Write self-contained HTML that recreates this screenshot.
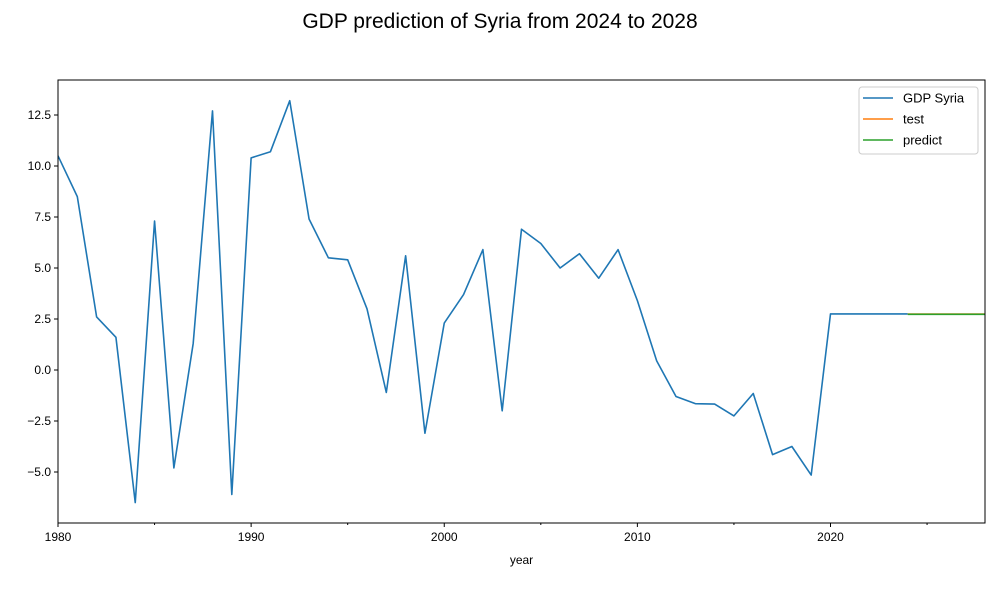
<!DOCTYPE html>
<html><head><meta charset="utf-8"><style>
body{margin:0;background:#fff;font-family:"Liberation Sans","DejaVu Sans",sans-serif;}
</style></head><body>
<svg id="c" width="1000" height="600" xmlns="http://www.w3.org/2000/svg"></svg>
<script>
const years=[1980,1981,1982,1983,1984,1985,1986,1987,1988,1989,1990,1991,1992,1993,1994,1995,1996,1997,1998,1999,2000,2001,2002,2003,2004,2005,2006,2007,2008,2009,2010,2011,2012,2013,2014,2015,2016,2017,2018,2019,2020,2021,2022,2023,2024];
const gdp=[10.5,8.5,2.6,1.6,-6.5,7.3,-4.8,1.3,12.7,-6.1,10.4,10.7,13.2,7.4,5.5,5.4,3.0,-1.1,5.6,-3.1,2.3,3.7,5.9,-2.0,6.9,6.2,5.0,5.7,4.5,5.9,3.4,0.45,-1.3,-1.65,-1.67,-2.25,-1.15,-4.15,-3.75,-5.15,2.75,2.75,2.75,2.75,2.75];
const testYears=[2024,2025,2026,2027,2028];
const testVals=[2.74,2.74,2.74,2.74,2.74];
const predYears=[2024,2025,2026,2027,2028];
const predVals=[2.73,2.73,2.73,2.73,2.73];
const xTicks=[1980,1990,2000,2010,2020];
const xMinor=[1985,1995,2005,2015,2025];
const yTicks=[-5,-2.5,0,2.5,5,7.5,10,12.5];
const yLabels=["−5.0","−2.5","0.0","2.5","5.0","7.5","10.0","12.5"];

const L=58,R=985,T=80,B=523;
const x=v=>L+(v-1980)*(R-L)/48;
const y=v=>370-v*20.4;
const svg=document.getElementById('c');
const NS='http://www.w3.org/2000/svg';
function mk(tag,attrs,parent){const e=document.createElementNS(NS,tag);for(const k in attrs)e.setAttribute(k,attrs[k]);(parent||svg).appendChild(e);return e;}

const title=mk('text',{x:500,y:28,'text-anchor':'middle','font-size':21,fill:'#000'});
title.textContent='GDP prediction of Syria from 2024 to 2028';



const clip=mk('clipPath',{id:'cp'});mk('rect',{x:L,y:T,width:R-L,height:B-T},clip);

function line(xs,vs,color,name){
  const d=xs.map((v,i)=>(i?'L':'M')+x(v).toFixed(2)+','+y(vs[i]).toFixed(2)).join('');
  const p=mk('path',{d:d,fill:'none',stroke:color,'stroke-width':1.6,'clip-path':'url(#cp)','stroke-linejoin':'round'});
  
  
}
line(years,gdp,'#1f77b4','gdp-syria-line');
line(testYears,testVals,'#ff7f0e','test-line');
line(predYears,predVals,'#2ca02c','predict-line');

const frame=mk('rect',{x:L,y:T,width:R-L,height:B-T,fill:'none',stroke:'#000','stroke-width':1});



xTicks.forEach(v=>{
  mk('line',{x1:x(v),x2:x(v),y1:B,y2:B+4,stroke:'#000'});
  const t=mk('text',{x:x(v),y:B+18,'text-anchor':'middle','font-size':12});
  t.textContent=v;
  
  
});
xMinor.forEach(v=>mk('line',{x1:x(v),x2:x(v),y1:B,y2:B+2,stroke:'#000'}));
yTicks.forEach((v,i)=>{
  mk('line',{x1:L-4,x2:L,y1:y(v),y2:y(v),stroke:'#000'});
  const t=mk('text',{x:L-7,y:y(v)+4,'text-anchor':'end','font-size':12});
  t.textContent=yLabels[i];
  
  
});
const xl=mk('text',{x:(L+R)/2,y:564,'text-anchor':'middle','font-size':12});
xl.textContent='year';



const lg=mk('g',{});


mk('rect',{x:859,y:87,width:119,height:67,rx:3,fill:'#fff',stroke:'#ccc','fill-opacity':0.8},lg);
[['GDP Syria','#1f77b4'],['test','#ff7f0e'],['predict','#2ca02c']].forEach((e,i)=>{
  const yy=98+i*21;
  mk('line',{x1:863,x2:893,y1:yy,y2:yy,stroke:e[1],'stroke-width':1.6},lg);
  const t=mk('text',{x:903,y:yy+4.5,'font-size':13},lg);
  t.textContent=e[0];
  
  
});
</script>
</body></html>
